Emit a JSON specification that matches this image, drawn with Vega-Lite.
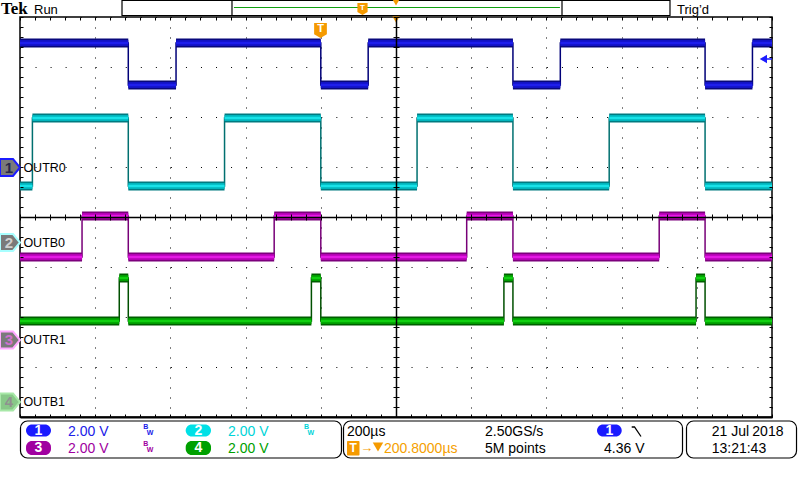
{
"$schema":"https://vega.github.io/schema/vega-lite/v6.json",
"width":752,"height":400,
"autosize":{"type":"none"},
"padding":{"left":20,"top":17,"right":28,"bottom":63},
"background":"white",
"config":{"view":{"stroke":"black","strokeWidth":1.5},"font":"Liberation Sans"},
"datasets":{
"traces":[
{"ch":"1","t0":0,"t1":288,"v":7.48},{"ch":"1","t0":288,"t1":415,"v":6.64},{"ch":"1","t0":415,"t1":800,"v":7.48},{"ch":"1","t0":800,"t1":926,"v":6.64},{"ch":"1","t0":926,"t1":1311,"v":7.48},{"ch":"1","t0":1311,"t1":1437,"v":6.64},{"ch":"1","t0":1437,"t1":1822,"v":7.48},{"ch":"1","t0":1822,"t1":1948,"v":6.64},{"ch":"1","t0":1948,"t1":2000,"v":7.48},
{"ch":"2","t0":0,"t1":33,"v":4.62},{"ch":"2","t0":33,"t1":288,"v":5.98},{"ch":"2","t0":288,"t1":544,"v":4.62},{"ch":"2","t0":544,"t1":800,"v":5.98},{"ch":"2","t0":800,"t1":1056,"v":4.62},{"ch":"2","t0":1056,"t1":1311,"v":5.98},{"ch":"2","t0":1311,"t1":1567,"v":4.62},{"ch":"2","t0":1567,"t1":1822,"v":5.98},{"ch":"2","t0":1822,"t1":2000,"v":4.62},
{"ch":"3","t0":0,"t1":165,"v":3.2},{"ch":"3","t0":165,"t1":288,"v":4.02},{"ch":"3","t0":288,"t1":676,"v":3.2},{"ch":"3","t0":676,"t1":800,"v":4.02},{"ch":"3","t0":800,"t1":1188,"v":3.2},{"ch":"3","t0":1188,"t1":1311,"v":4.02},{"ch":"3","t0":1311,"t1":1700,"v":3.2},{"ch":"3","t0":1700,"t1":1822,"v":4.02},{"ch":"3","t0":1822,"t1":2000,"v":3.2},
{"ch":"4","t0":0,"t1":264,"v":1.92},{"ch":"4","t0":264,"t1":288,"v":2.78},{"ch":"4","t0":288,"t1":775,"v":1.92},{"ch":"4","t0":775,"t1":800,"v":2.78},{"ch":"4","t0":800,"t1":1287,"v":1.92},{"ch":"4","t0":1287,"t1":1311,"v":2.78},{"ch":"4","t0":1311,"t1":1798,"v":1.92},{"ch":"4","t0":1798,"t1":1822,"v":2.78},{"ch":"4","t0":1822,"t1":2000,"v":1.92}
],
"markers":[{"ch":"1","name":"OUTR0","lvl":4.99},{"ch":"2","name":"OUTB0","lvl":3.49},{"ch":"3","name":"OUTR1","lvl":1.54},{"ch":"4","name":"OUTB1","lvl":0.30}],
"footBoxes":[{"t0":1.3,"t1":855,"v0":-0.08,"v1":-0.82},{"t0":860.4,"t1":1762,"v0":-0.08,"v1":-0.82},{"t0":1772.6,"t1":2065.2,"v0":-0.08,"v1":-0.82}],
"headBoxes":[{"t0":271.3,"t1":1728.7,"v0":8.33,"v1":8.03},{"t0":563.8,"t1":1441.5,"v0":8.33,"v1":8.03}],
"pills":[{"k":"1","lab":"1","t0":16,"t1":82.4,"v0":-0.15,"v1":-0.39,"tc":49.2,"vc":-0.27},{"k":"2","lab":"2","t0":440.7,"t1":508,"v0":-0.15,"v1":-0.39,"tc":474.4,"vc":-0.27},{"k":"3","lab":"3","t0":16,"t1":82.4,"v0":-0.48,"v1":-0.76,"tc":49.2,"vc":-0.62},{"k":"4","lab":"4","t0":440.7,"t1":508,"v0":-0.48,"v1":-0.76,"tc":474.4,"vc":-0.62},{"k":"1","lab":"1","t0":1534.6,"t1":1600.3,"v0":-0.15,"v1":-0.39,"tc":1567.4,"vc":-0.27}],
"blackText":[{"txt":"200µs","t":869.7,"v":-0.38},{"txt":"2.50GS/s","t":1236.7,"v":-0.38},{"txt":"5M points","t":1236.7,"v":-0.726},{"txt":"4.36 V","t":1553.2,"v":-0.726},{"txt":"21 Jul","t":1839.6,"v":-0.38},{"txt":"2018","t":1947.7,"v":-0.38},{"txt":"13:21:43","t":1839.6,"v":-0.726}],
"colorText":[{"k":"1","txt":"2.00 V","t":127.7,"v":-0.38},{"k":"2","txt":"2.00 V","t":553.2,"v":-0.38},{"k":"3","txt":"2.00 V","t":127.7,"v":-0.726},{"k":"4","txt":"2.00 V","t":553.2,"v":-0.726},{"k":"T","txt":"200.8000µs","t":968.1,"v":-0.726}],
"bw":[{"k":"1","txt":"B","t":328,"v":-0.246},{"k":"1","txt":"W","t":337,"v":-0.36},{"k":"2","txt":"B","t":755.3,"v":-0.246},{"k":"2","txt":"W","t":764.4,"v":-0.36},{"k":"3","txt":"B","t":328,"v":-0.58},{"k":"3","txt":"W","t":337,"v":-0.694}],
"headText":[{"txt":"Run","t":37.2,"v":8.06},{"txt":"Trig’d","t":1747.4,"v":8.06}],
"tek":[{"txt":"Tek","t":-50.5,"v":8.06}],
"tBig":[{"t":799.2,"v":7.73,"lt":799.2,"lv":7.77}],
"tSmall":[{"t":910.9,"v":8.16,"lt":910.9,"lv":8.18}],
"tris":[{"t":1000,"v":8.29},{"t":1000,"v":7.95}],
"triFoot":[{"t":952.1,"v":-0.6}],
"greenLine":[{"t0":569,"t1":1436,"v":8.19}],
"arrow":[{"t":1977,"v":7.16,"t1":2000}],
"edge":[{"t":1626.9,"v":-0.2,"i":1},{"t":1634.3,"v":-0.2,"i":2},{"t":1651.6,"v":-0.39,"i":3}],
"tFoot":[{"t0":869.7,"t1":902.9,"v0":-0.48,"v1":-0.77,"tc":886.3,"vc":-0.625,"ta":905,"txt":"→"}]
},
"resolve":{"scale":{"color":"independent","fill":"independent","stroke":"independent"},"axis":{"x":"independent","y":"independent"}},
"layer":[
{"data":{"name":"traces"},
 "transform":[{"fold":["t0","t1"],"as":["end","t"]}],
 "mark":{"type":"line","strokeWidth":1.5},
 "encoding":{
  "x":{"field":"t","type":"quantitative","scale":{"domain":[0,2000],"nice":false,"zero":false},"axis":{"values":[0,200,400,600,800,1000,1200,1400,1600,1800,2000],"grid":true,"gridDash":[1,9],"gridColor":"#000000","gridWidth":1,"gridOpacity":1,"domain":false,"ticks":false,"labels":false,"title":null,"zindex":0}},
  "y":{"field":"v","type":"quantitative","scale":{"domain":[0,8],"nice":false,"zero":false},"axis":{"values":[0,1,2,3,4,5,6,7,8],"grid":true,"gridDash":[1,14.04],"gridColor":"#000000","gridWidth":1,"gridOpacity":1,"domain":false,"ticks":false,"labels":false,"title":null,"zindex":0}},
  "color":{"field":"ch","type":"nominal","scale":{"domain":["1","2","3","4"],"range":["#000078","#007070","#780078","#005000"]},"legend":null},
  "order":[{"field":"t","type":"quantitative","sort":"ascending"},{"field":"end","type":"ordinal","sort":"descending"}]
 }},
{"data":{"name":"traces"},
 "mark":{"type":"rule","strokeWidth":9,"strokeCap":"butt"},
 "encoding":{
  "x":{"field":"t0","type":"quantitative","scale":{"domain":[0,2000],"nice":false,"zero":false},"axis":{"orient":"bottom","offset":-200,"values":[0,40,80,120,160,200,240,280,320,360,400,440,480,520,560,600,640,680,720,760,800,840,880,920,960,1000,1040,1080,1120,1160,1200,1240,1280,1320,1360,1400,1440,1480,1520,1560,1600,1640,1680,1720,1760,1800,1840,1880,1920,1960,2000],"grid":false,"domain":true,"domainColor":"#000000","domainWidth":1.5,"ticks":true,"tickSize":3,"tickColor":"#000000","tickWidth":1,"labels":false,"title":null,"zindex":1}},
  "x2":{"field":"t1"},
  "y":{"field":"v","type":"quantitative","scale":{"domain":[0,8],"nice":false,"zero":false},"axis":{"orient":"left","offset":-376,"values":[0,0.2,0.4,0.6,0.8,1,1.2,1.4,1.6,1.8,2,2.2,2.4,2.6,2.8,3,3.2,3.4,3.6,3.8,4,4.2,4.4,4.6,4.8,5,5.2,5.4,5.6,5.8,6,6.2,6.4,6.6,6.8,7,7.2,7.4,7.6,7.8,8],"grid":false,"domain":true,"domainColor":"#000000","domainWidth":1.5,"ticks":true,"tickSize":3,"tickColor":"#000000","tickWidth":1,"labels":false,"title":null,"zindex":1}},
  "color":{"field":"ch","type":"nominal","scale":{"domain":["1","2","3","4"],"range":["#08087c","#007a80","#7c007c","#005e00"]},"legend":null}
 }},
{"data":{"name":"traces"},
 "mark":{"type":"rule","strokeWidth":6,"strokeCap":"butt"},
 "encoding":{
  "x":{"field":"t0","type":"quantitative","scale":{"domain":[0,2000],"nice":false,"zero":false},"axis":{"orient":"top","offset":-200,"values":[0,40,80,120,160,200,240,280,320,360,400,440,480,520,560,600,640,680,720,760,800,840,880,920,960,1000,1040,1080,1120,1160,1200,1240,1280,1320,1360,1400,1440,1480,1520,1560,1600,1640,1680,1720,1760,1800,1840,1880,1920,1960,2000],"grid":false,"domain":false,"ticks":true,"tickSize":3,"tickColor":"#000000","tickWidth":1,"labels":false,"title":null,"zindex":1}},
  "x2":{"field":"t1"},
  "y":{"field":"v","type":"quantitative","scale":{"domain":[0,8],"nice":false,"zero":false},"axis":{"orient":"right","offset":-376,"values":[0,0.2,0.4,0.6,0.8,1,1.2,1.4,1.6,1.8,2,2.2,2.4,2.6,2.8,3,3.2,3.4,3.6,3.8,4,4.2,4.4,4.6,4.8,5,5.2,5.4,5.6,5.8,6,6.2,6.4,6.6,6.8,7,7.2,7.4,7.6,7.8,8],"grid":false,"domain":false,"ticks":true,"tickSize":3,"tickColor":"#000000","tickWidth":1,"labels":false,"title":null,"zindex":1}},
  "color":{"field":"ch","type":"nominal","scale":{"domain":["1","2","3","4"],"range":["#1212c4","#00b4bc","#b400b4","#009c00"]},"legend":null}
 }},
{"data":{"name":"traces"},
 "mark":{"type":"rule","strokeWidth":2.5,"strokeCap":"butt"},
 "encoding":{
  "x":{"field":"t0","type":"quantitative","scale":{"domain":[0,2000],"nice":false,"zero":false},"axis":{"orient":"bottom","offset":0,"values":[0,40,80,120,160,200,240,280,320,360,400,440,480,520,560,600,640,680,720,760,800,840,880,920,960,1000,1040,1080,1120,1160,1200,1240,1280,1320,1360,1400,1440,1480,1520,1560,1600,1640,1680,1720,1760,1800,1840,1880,1920,1960,2000],"grid":false,"domain":true,"domainColor":"#000000","domainWidth":2,"ticks":true,"tickSize":-3,"tickColor":"#000000","tickWidth":1,"labels":false,"title":null,"zindex":1}},
  "x2":{"field":"t1"},
  "y":{"field":"v","type":"quantitative","scale":{"domain":[0,8],"nice":false,"zero":false},"axis":{"orient":"left","offset":0,"values":[0,0.2,0.4,0.6,0.8,1,1.2,1.4,1.6,1.8,2,2.2,2.4,2.6,2.8,3,3.2,3.4,3.6,3.8,4,4.2,4.4,4.6,4.8,5,5.2,5.4,5.6,5.8,6,6.2,6.4,6.6,6.8,7,7.2,7.4,7.6,7.8,8],"grid":false,"domain":false,"ticks":true,"tickSize":-3,"tickColor":"#000000","tickWidth":1,"labels":false,"title":null,"zindex":1}},
  "color":{"field":"ch","type":"nominal","scale":{"domain":["1","2","3","4"],"range":["#1e1eec","#18e2e8","#e418e4","#10d010"]},"legend":null}
 }},
{"data":{"name":"footBoxes"},
 "mark":{"type":"rect","cornerRadius":7,"fill":"white","stroke":"black","strokeWidth":1.2},
 "encoding":{
  "x":{"field":"t0","type":"quantitative","scale":{"domain":[0,2000],"nice":false,"zero":false},"axis":{"orient":"top","offset":0,"values":[0,40,80,120,160,200,240,280,320,360,400,440,480,520,560,600,640,680,720,760,800,840,880,920,960,1000,1040,1080,1120,1160,1200,1240,1280,1320,1360,1400,1440,1480,1520,1560,1600,1640,1680,1720,1760,1800,1840,1880,1920,1960,2000],"grid":false,"domain":false,"ticks":true,"tickSize":-3,"tickColor":"#000000","tickWidth":1,"labels":false,"title":null,"zindex":1}},
  "x2":{"field":"t1"},
  "y":{"field":"v0","type":"quantitative","scale":{"domain":[0,8],"nice":false,"zero":false},"axis":{"orient":"right","offset":0,"values":[0,0.2,0.4,0.6,0.8,1,1.2,1.4,1.6,1.8,2,2.2,2.4,2.6,2.8,3,3.2,3.4,3.6,3.8,4,4.2,4.4,4.6,4.8,5,5.2,5.4,5.6,5.8,6,6.2,6.4,6.6,6.8,7,7.2,7.4,7.6,7.8,8],"grid":false,"domain":false,"ticks":true,"tickSize":-3,"tickColor":"#000000","tickWidth":1,"labels":false,"title":null,"zindex":1}},
  "y2":{"field":"v1"}
 }},
{"data":{"name":"headBoxes"},
 "mark":{"type":"rect","fill":"white","stroke":"black","strokeWidth":1.2},
 "encoding":{
  "x":{"field":"t0","type":"quantitative","scale":{"domain":[0,2000],"nice":false,"zero":false},"axis":null},
  "x2":{"field":"t1"},
  "y":{"field":"v0","type":"quantitative","scale":{"domain":[0,8],"nice":false,"zero":false},"axis":null},
  "y2":{"field":"v1"}
 }},
{"data":{"name":"greenLine"},
 "mark":{"type":"rule","stroke":"#10a010","strokeWidth":1.2},
 "encoding":{
  "x":{"field":"t0","type":"quantitative","scale":{"domain":[0,2000],"nice":false,"zero":false},"axis":null},
  "x2":{"field":"t1"},
  "y":{"field":"v","type":"quantitative","scale":{"domain":[0,8],"nice":false,"zero":false},"axis":null}
 }},
{"data":{"name":"markers"},
 "mark":{"type":"point","shape":"M-1,-0.85L0.3,-0.85L1,0L0.3,0.85L-1,0.85Z","size":400,"filled":true,"strokeWidth":2,"opacity":1},
 "encoding":{
  "x":{"datum":-26.6,"type":"quantitative","scale":{"domain":[0,2000],"nice":false,"zero":false},"axis":null},
  "y":{"field":"lvl","type":"quantitative","scale":{"domain":[0,8],"nice":false,"zero":false},"axis":null},
  "fill":{"field":"ch","type":"nominal","scale":{"domain":["1","2","3","4"],"range":["#7a7a7a","#7a7a7a","#7a7a7a","#88c888"]},"legend":null},
  "stroke":{"field":"ch","type":"nominal","scale":{"domain":["1","2","3","4"],"range":["#1c1cff","#a8ffff","#ffa8ff","#a8e8a8"]},"legend":null}
 }},
{"data":{"name":"markers"},
 "mark":{"type":"text","fontSize":15,"fontWeight":"bold","align":"center","baseline":"middle","font":"Liberation Sans"},
 "encoding":{
  "x":{"datum":-29.3,"type":"quantitative","scale":{"domain":[0,2000],"nice":false,"zero":false},"axis":null},
  "y":{"field":"lvl","type":"quantitative","scale":{"domain":[0,8],"nice":false,"zero":false},"axis":null},
  "text":{"field":"ch"},
  "color":{"field":"ch","type":"nominal","scale":{"domain":["1","2","3","4"],"range":["#28284a","#d0d0d0","#d070d0","#909090"]},"legend":null}
 }},
{"data":{"name":"markers"},
 "mark":{"type":"text","fontSize":12.5,"align":"left","baseline":"middle","font":"Liberation Sans","color":"#000000"},
 "encoding":{
  "x":{"datum":9,"type":"quantitative","scale":{"domain":[0,2000],"nice":false,"zero":false},"axis":null},
  "y":{"field":"lvl","type":"quantitative","scale":{"domain":[0,8],"nice":false,"zero":false},"axis":null},
  "text":{"field":"name"}
 }},
{"data":{"name":"pills"},
 "mark":{"type":"rect","cornerRadius":6},
 "encoding":{
  "x":{"field":"t0","type":"quantitative","scale":{"domain":[0,2000],"nice":false,"zero":false},"axis":null},
  "x2":{"field":"t1"},
  "y":{"field":"v0","type":"quantitative","scale":{"domain":[0,8],"nice":false,"zero":false},"axis":null},
  "y2":{"field":"v1"},
  "color":{"field":"k","type":"nominal","scale":{"domain":["1","2","3","4"],"range":["#1a1aff","#00e0e6","#a000a0","#00a000"]},"legend":null}
 }},
{"data":{"name":"pills"},
 "mark":{"type":"text","fontSize":14,"fontWeight":"bold","align":"center","baseline":"middle","color":"white","font":"Liberation Sans"},
 "encoding":{
  "x":{"field":"tc","type":"quantitative","scale":{"domain":[0,2000],"nice":false,"zero":false},"axis":null},
  "y":{"field":"vc","type":"quantitative","scale":{"domain":[0,8],"nice":false,"zero":false},"axis":null},
  "text":{"field":"lab"}
 }},
{"data":{"name":"blackText"},
 "mark":{"type":"text","fontSize":14,"align":"left","baseline":"alphabetic","color":"#000000","font":"Liberation Sans"},
 "encoding":{
  "x":{"field":"t","type":"quantitative","scale":{"domain":[0,2000],"nice":false,"zero":false},"axis":null},
  "y":{"field":"v","type":"quantitative","scale":{"domain":[0,8],"nice":false,"zero":false},"axis":null},
  "text":{"field":"txt"}
 }},
{"data":{"name":"colorText"},
 "mark":{"type":"text","fontSize":14,"align":"left","baseline":"alphabetic","font":"Liberation Sans"},
 "encoding":{
  "x":{"field":"t","type":"quantitative","scale":{"domain":[0,2000],"nice":false,"zero":false},"axis":null},
  "y":{"field":"v","type":"quantitative","scale":{"domain":[0,8],"nice":false,"zero":false},"axis":null},
  "text":{"field":"txt"},
  "color":{"field":"k","type":"nominal","scale":{"domain":["1","2","3","4","T"],"range":["#2020e8","#00d4d8","#a000a0","#00a000","#f5a000"]},"legend":null}
 }},
{"data":{"name":"bw"},
 "mark":{"type":"text","fontSize":7,"fontWeight":"bold","align":"left","baseline":"alphabetic","font":"Liberation Sans"},
 "encoding":{
  "x":{"field":"t","type":"quantitative","scale":{"domain":[0,2000],"nice":false,"zero":false},"axis":null},
  "y":{"field":"v","type":"quantitative","scale":{"domain":[0,8],"nice":false,"zero":false},"axis":null},
  "text":{"field":"txt"},
  "color":{"field":"k","type":"nominal","scale":{"domain":["1","2","3","4"],"range":["#2020e8","#00d4d8","#a000a0","#00a000"]},"legend":null}
 }},
{"data":{"name":"headText"},
 "mark":{"type":"text","fontSize":13,"align":"left","baseline":"alphabetic","color":"#000000","font":"Liberation Sans"},
 "encoding":{
  "x":{"field":"t","type":"quantitative","scale":{"domain":[0,2000],"nice":false,"zero":false},"axis":null},
  "y":{"field":"v","type":"quantitative","scale":{"domain":[0,8],"nice":false,"zero":false},"axis":null},
  "text":{"field":"txt"}
 }},
{"data":{"name":"tek"},
 "mark":{"type":"text","fontSize":17,"fontWeight":"bold","align":"left","baseline":"alphabetic","color":"#000000","font":"Liberation Serif"},
 "encoding":{
  "x":{"field":"t","type":"quantitative","scale":{"domain":[0,2000],"nice":false,"zero":false},"axis":null},
  "y":{"field":"v","type":"quantitative","scale":{"domain":[0,8],"nice":false,"zero":false},"axis":null},
  "text":{"field":"txt"}
 }},
{"data":{"name":"tBig"},
 "mark":{"type":"point","shape":"M-0.85,-1L0.85,-1L0.85,0.5L0,1L-0.85,0.5Z","size":225,"filled":true,"color":"#f59a00","opacity":1},
 "encoding":{
  "x":{"field":"t","type":"quantitative","scale":{"domain":[0,2000],"nice":false,"zero":false},"axis":null},
  "y":{"field":"v","type":"quantitative","scale":{"domain":[0,8],"nice":false,"zero":false},"axis":null}
 }},
{"data":{"name":"tBig"},
 "mark":{"type":"text","text":"T","fontSize":11,"fontWeight":"bold","align":"center","baseline":"middle","color":"white","font":"Liberation Sans"},
 "encoding":{
  "x":{"field":"lt","type":"quantitative","scale":{"domain":[0,2000],"nice":false,"zero":false},"axis":null},
  "y":{"field":"lv","type":"quantitative","scale":{"domain":[0,8],"nice":false,"zero":false},"axis":null}
 }},
{"data":{"name":"tSmall"},
 "mark":{"type":"point","shape":"M-0.85,-1L0.85,-1L0.85,0.5L0,1L-0.85,0.5Z","size":144,"filled":true,"color":"#f59a00","opacity":1},
 "encoding":{
  "x":{"field":"t","type":"quantitative","scale":{"domain":[0,2000],"nice":false,"zero":false},"axis":null},
  "y":{"field":"v","type":"quantitative","scale":{"domain":[0,8],"nice":false,"zero":false},"axis":null}
 }},
{"data":{"name":"tSmall"},
 "mark":{"type":"text","text":"T","fontSize":8,"fontWeight":"bold","align":"center","baseline":"middle","color":"white","font":"Liberation Sans"},
 "encoding":{
  "x":{"field":"lt","type":"quantitative","scale":{"domain":[0,2000],"nice":false,"zero":false},"axis":null},
  "y":{"field":"lv","type":"quantitative","scale":{"domain":[0,8],"nice":false,"zero":false},"axis":null}
 }},
{"data":{"name":"tris"},
 "mark":{"type":"point","shape":"triangle-down","size":50,"filled":true,"color":"#f59a00","opacity":1},
 "encoding":{
  "x":{"field":"t","type":"quantitative","scale":{"domain":[0,2000],"nice":false,"zero":false},"axis":null},
  "y":{"field":"v","type":"quantitative","scale":{"domain":[0,8],"nice":false,"zero":false},"axis":null}
 }},
{"data":{"name":"triFoot"},
 "mark":{"type":"point","shape":"triangle-down","size":110,"filled":true,"color":"#f59a00","opacity":1},
 "encoding":{
  "x":{"field":"t","type":"quantitative","scale":{"domain":[0,2000],"nice":false,"zero":false},"axis":null},
  "y":{"field":"v","type":"quantitative","scale":{"domain":[0,8],"nice":false,"zero":false},"axis":null}
 }},
{"data":{"name":"tFoot"},
 "mark":{"type":"rect","color":"#f59a00","cornerRadius":1},
 "encoding":{
  "x":{"field":"t0","type":"quantitative","scale":{"domain":[0,2000],"nice":false,"zero":false},"axis":null},
  "x2":{"field":"t1"},
  "y":{"field":"v0","type":"quantitative","scale":{"domain":[0,8],"nice":false,"zero":false},"axis":null},
  "y2":{"field":"v1"}
 }},
{"data":{"name":"tFoot"},
 "mark":{"type":"text","text":"T","fontSize":12,"fontWeight":"bold","align":"center","baseline":"middle","color":"white","font":"Liberation Sans"},
 "encoding":{
  "x":{"field":"tc","type":"quantitative","scale":{"domain":[0,2000],"nice":false,"zero":false},"axis":null},
  "y":{"field":"vc","type":"quantitative","scale":{"domain":[0,8],"nice":false,"zero":false},"axis":null}
 }},
{"data":{"name":"tFoot"},
 "mark":{"type":"text","fontSize":13,"align":"left","baseline":"middle","color":"#f59a00","font":"Liberation Sans"},
 "encoding":{
  "x":{"field":"ta","type":"quantitative","scale":{"domain":[0,2000],"nice":false,"zero":false},"axis":null},
  "y":{"field":"vc","type":"quantitative","scale":{"domain":[0,8],"nice":false,"zero":false},"axis":null},
  "text":{"field":"txt"}
 }},
{"data":{"name":"arrow"},
 "mark":{"type":"rule","stroke":"#1c1cff","strokeWidth":1.5},
 "encoding":{
  "x":{"field":"t","type":"quantitative","scale":{"domain":[0,2000],"nice":false,"zero":false},"axis":null},
  "x2":{"field":"t1"},
  "y":{"field":"v","type":"quantitative","scale":{"domain":[0,8],"nice":false,"zero":false},"axis":null}
 }},
{"data":{"name":"arrow"},
 "mark":{"type":"point","shape":"triangle-left","size":70,"filled":true,"color":"#1c1cff","opacity":1},
 "encoding":{
  "x":{"field":"t","type":"quantitative","scale":{"domain":[0,2000],"nice":false,"zero":false},"axis":null},
  "y":{"field":"v","type":"quantitative","scale":{"domain":[0,8],"nice":false,"zero":false},"axis":null}
 }},
{"data":{"name":"edge"},
 "mark":{"type":"line","color":"#000000","strokeWidth":1.3},
 "encoding":{
  "x":{"field":"t","type":"quantitative","scale":{"domain":[0,2000],"nice":false,"zero":false},"axis":null},
  "y":{"field":"v","type":"quantitative","scale":{"domain":[0,8],"nice":false,"zero":false},"axis":null},
  "order":{"field":"i","type":"quantitative"}
 }}
]
}
